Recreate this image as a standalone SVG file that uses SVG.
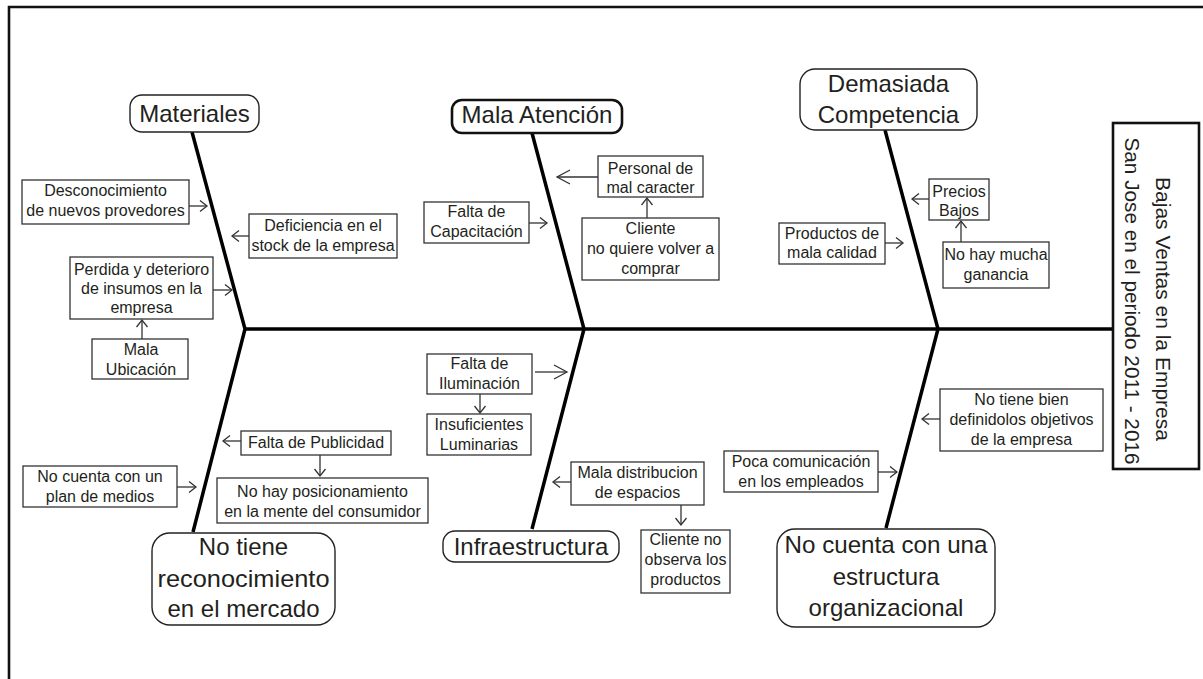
<svg xmlns="http://www.w3.org/2000/svg" width="1203" height="679" viewBox="0 0 1203 679">
<defs>
<style>
.bg{fill:#fff}
.bone{fill:none;stroke:#000;stroke-width:3.5;stroke-linejoin:miter}
.frame{fill:none;stroke:#111;stroke-width:2.6}
.cat{fill:#fff;stroke:#222;stroke-width:1.4}
.catb{fill:#fff;stroke:#111;stroke-width:2.6}
.box{fill:#fff;stroke:#333;stroke-width:1.3}
.ar{fill:none;stroke:#333;stroke-width:1.3}
.t{font-family:"Liberation Sans",Arial,sans-serif;fill:#231f20;text-anchor:middle}
.s{font-size:16px}
.l{font-size:24px}
.e{font-size:21px}
</style>
<marker id="ah" markerWidth="10" markerHeight="14" refX="8" refY="6.5" orient="auto" markerUnits="userSpaceOnUse"><path d="M1,1 L8,6.5 L1,12" fill="none" stroke="#333" stroke-width="1.3"/></marker>
<marker id="ahb" markerWidth="16" markerHeight="17" refX="14" refY="8" orient="auto" markerUnits="userSpaceOnUse"><path d="M1,1 L14,8 L1,15" fill="none" stroke="#333" stroke-width="1.3"/></marker>
</defs>
<rect class="bg" x="0" y="0" width="1203" height="679"/>
<path class="frame" d="M9,679 L9,7 L1203,7"/>

<g id="connectors">
<path class="bone" d="M245,329 L1113,329"/>
<path class="bone" d="M192,132 L245,329 L193,532"/>
<path class="bone" d="M532,133 L584,329 L532,529"/>
<path class="bone" d="M885,130 L938,329 L886,528"/>
<line class="ar" x1="189" y1="206" x2="207" y2="206" marker-end="url(#ah)"/>
<line class="ar" x1="249" y1="236" x2="232" y2="236" marker-end="url(#ah)"/>
<line class="ar" x1="213" y1="290" x2="232" y2="290" marker-end="url(#ah)"/>
<line class="ar" x1="142" y1="339" x2="142" y2="320" marker-end="url(#ah)"/>
<line class="ar" x1="529" y1="223" x2="547" y2="223" marker-end="url(#ah)"/>
<line class="ar" x1="598" y1="177" x2="557" y2="177" marker-end="url(#ahb)"/>
<line class="ar" x1="647" y1="218" x2="647" y2="198" marker-end="url(#ah)"/>
<line class="ar" x1="929" y1="199" x2="912" y2="199" marker-end="url(#ah)"/>
<line class="ar" x1="885" y1="243" x2="903" y2="243" marker-end="url(#ah)"/>
<line class="ar" x1="961" y1="242" x2="961" y2="221" marker-end="url(#ah)"/>
<line class="ar" x1="241" y1="441" x2="223" y2="441" marker-end="url(#ah)"/>
<line class="ar" x1="320" y1="455" x2="320" y2="476" marker-end="url(#ah)"/>
<line class="ar" x1="177" y1="487" x2="196" y2="487" marker-end="url(#ah)"/>
<line class="ar" x1="535" y1="372" x2="567" y2="372" marker-end="url(#ahb)"/>
<line class="ar" x1="480" y1="394" x2="480" y2="413" marker-end="url(#ah)"/>
<line class="ar" x1="571" y1="482" x2="553" y2="482" marker-end="url(#ah)"/>
<line class="ar" x1="681" y1="505" x2="681" y2="525" marker-end="url(#ah)"/>
<line class="ar" x1="940" y1="419" x2="922" y2="419" marker-end="url(#ah)"/>
<line class="ar" x1="878" y1="472" x2="897" y2="472" marker-end="url(#ah)"/>
</g>

<g id="effect">
<rect class="frame" x="1113" y="123" width="86" height="346"/>
<text class="t e" transform="translate(1156,309) rotate(90)" x="0" y="0">Bajas Ventas en la Empresa</text>
<text class="t e" transform="translate(1125,301) rotate(90)" x="0" y="0" textLength="327" lengthAdjust="spacingAndGlyphs">San Jose en el periodo 2011 - 2016</text>
</g>

<g id="materiales">
<rect class="cat" x="130" y="95" width="129" height="37" rx="12"/>
<text class="t l" x="194.5" y="122">Materiales</text>
</g>
<g id="mala-atencion">
<rect class="catb" x="452" y="100" width="170" height="33" rx="10"/>
<text class="t l" x="537" y="123">Mala Atención</text>
</g>
<g id="competencia">
<rect class="cat" x="800" y="69" width="177" height="61" rx="15"/>
<text class="t l" x="888.5" y="92">Demasiada</text>
<text class="t l" x="888.5" y="123">Competencia</text>
</g>
<g id="reconocimiento">
<rect class="cat" x="152" y="533" width="183" height="92" rx="18"/>
<text class="t l" x="243.5" y="555">No tiene</text>
<text class="t l" x="243.5" y="587" textLength="172" lengthAdjust="spacingAndGlyphs">reconocimiento</text>
<text class="t l" x="243.5" y="617">en el mercado</text>
</g>
<g id="infraestructura">
<rect class="cat" x="443" y="531" width="176" height="31" rx="12"/>
<text class="t l" x="531" y="555">Infraestructura</text>
</g>
<g id="estructura">
<rect class="cat" x="777" y="529" width="218" height="98" rx="18"/>
<text class="t l" x="886" y="553" textLength="203" lengthAdjust="spacingAndGlyphs">No cuenta con una</text>
<text class="t l" x="886" y="585">estructura</text>
<text class="t l" x="886" y="616">organizacional</text>
</g>

<g id="desconocimiento">
<rect class="box" x="22" y="180" width="167" height="44"/>
<text class="t s" x="105.5" y="196">Desconocimiento</text>
<text class="t s" x="105.5" y="216">de nuevos provedores</text>
</g>
<g id="deficiencia">
<rect class="box" x="249" y="214" width="148" height="44"/>
<text class="t s" x="323" y="231">Deficiencia en el</text>
<text class="t s" x="323" y="251">stock de la empresa</text>
</g>
<g id="perdida">
<rect class="box" x="70" y="257" width="143" height="62"/>
<text class="t s" x="141.5" y="275">Perdida y deterioro</text>
<text class="t s" x="141.5" y="294">de insumos en la</text>
<text class="t s" x="141.5" y="313">empresa</text>
</g>
<g id="mala-ubicacion">
<rect class="box" x="92" y="339" width="96" height="40"/>
<text class="t s" x="141" y="355">Mala</text>
<text class="t s" x="141" y="375">Ubicación</text>
</g>
<g id="capacitacion">
<rect class="box" x="424" y="202" width="105" height="41"/>
<text class="t s" x="476.5" y="217">Falta de</text>
<text class="t s" x="476.5" y="237">Capacitación</text>
</g>
<g id="personal">
<rect class="box" x="598" y="156" width="105" height="41"/>
<text class="t s" x="650.5" y="174">Personal de</text>
<text class="t s" x="650.5" y="193">mal caracter</text>
</g>
<g id="cliente">
<rect class="box" x="582" y="218" width="137" height="62"/>
<text class="t s" x="650.5" y="234">Cliente</text>
<text class="t s" x="650.5" y="254">no quiere volver a</text>
<text class="t s" x="650.5" y="274">comprar</text>
</g>
<g id="precios">
<rect class="box" x="929" y="179" width="60" height="41"/>
<text class="t s" x="959" y="197">Precios</text>
<text class="t s" x="959" y="216">Bajos</text>
</g>
<g id="productos">
<rect class="box" x="779" y="223" width="106" height="41"/>
<text class="t s" x="832" y="239">Productos de</text>
<text class="t s" x="832" y="258">mala calidad</text>
</g>
<g id="ganancia">
<rect class="box" x="943" y="242" width="106" height="46"/>
<text class="t s" x="996" y="260">No hay mucha</text>
<text class="t s" x="996" y="280">ganancia</text>
</g>
<g id="publicidad">
<rect class="box" x="241" y="431" width="150" height="24"/>
<text class="t s" x="316" y="448">Falta de Publicidad</text>
</g>
<g id="posicionamiento">
<rect class="box" x="217" y="478" width="211" height="45"/>
<text class="t s" x="322.5" y="497">No hay posicionamiento</text>
<text class="t s" x="322.5" y="517">en la mente del consumidor</text>
</g>
<g id="plan-medios">
<rect class="box" x="23" y="466" width="154" height="41"/>
<text class="t s" x="100" y="482">No cuenta con un</text>
<text class="t s" x="100" y="502">plan de medios</text>
</g>
<g id="iluminacion">
<rect class="box" x="427" y="354" width="105" height="40"/>
<text class="t s" x="479.5" y="369">Falta de</text>
<text class="t s" x="479.5" y="389">Iluminación</text>
</g>
<g id="luminarias">
<rect class="box" x="427" y="414" width="104" height="41"/>
<text class="t s" x="479" y="430">Insuficientes</text>
<text class="t s" x="479" y="450">Luminarias</text>
</g>
<g id="distribucion">
<rect class="box" x="571" y="462" width="133" height="43"/>
<text class="t s" x="637.5" y="478">Mala distribucion</text>
<text class="t s" x="637.5" y="498">de espacios</text>
</g>
<g id="observa">
<rect class="box" x="641" y="530" width="89" height="63"/>
<text class="t s" x="685.5" y="545">Cliente no</text>
<text class="t s" x="685.5" y="565">observa los</text>
<text class="t s" x="685.5" y="585">productos</text>
</g>
<g id="objetivos">
<rect class="box" x="940" y="389" width="163" height="62"/>
<text class="t s" x="1021.5" y="405">No tiene bien</text>
<text class="t s" x="1021.5" y="425">definidolos objetivos</text>
<text class="t s" x="1021.5" y="445">de la empresa</text>
</g>
<g id="comunicacion">
<rect class="box" x="724" y="451" width="154" height="41"/>
<text class="t s" x="801" y="467">Poca comunicación</text>
<text class="t s" x="801" y="487">en los empleados</text>
</g>
</svg>
